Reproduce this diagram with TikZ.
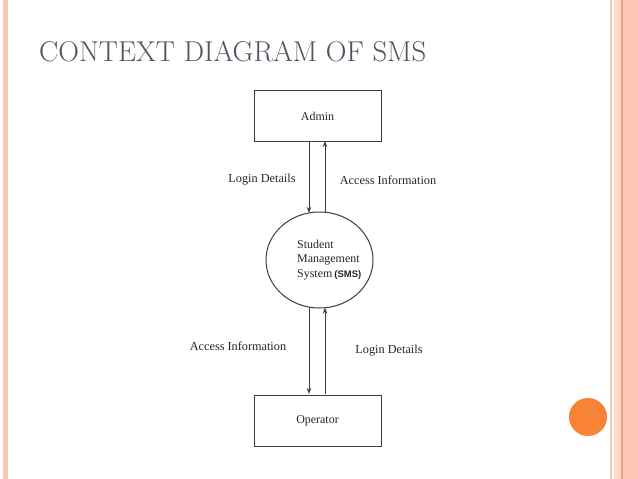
\documentclass[tikz,border=0pt]{standalone}
\usepackage{fontspec}
\setmainfont{Liberation Serif}
\newfontfamily\titlefont{Latin Modern Roman}
\newfontfamily\smsfont{Liberation Sans}
\usetikzlibrary{shapes.geometric,arrows.meta}
\definecolor{stripe}{HTML}{F9C9B8}
\definecolor{peach}{HTML}{FCC8B4}
\definecolor{peachdark}{HTML}{F0A078}
\definecolor{titlegray}{HTML}{4F5461}
\definecolor{linegray}{HTML}{3C3C3C}
\definecolor{textgray}{HTML}{262626}
\definecolor{dotorange}{HTML}{F88236}
\tikzset{
  entity/.style={draw=linegray, line width=1pt, minimum width=127bp, minimum height=51bp, inner sep=0pt, text=textgray, font=\fontsize{12}{14}\selectfont},
  process/.style={draw=linegray, line width=1pt, ellipse, minimum width=107bp, minimum height=96bp, inner sep=0pt},
  flow/.style={draw=linegray, line width=1pt, -{Stealth[length=6bp,width=4.5bp]}},
  flowlabel/.style={text=textgray, font=\fontsize{12.3}{14}\selectfont, inner sep=0pt}
}
\begin{document}
\begin{tikzpicture}[x=1bp,y=-1bp]
\useasboundingbox (0,0) rectangle (638,479);
\fill[white] (0,0) rectangle (638,479);
% decorative stripes
\fill[stripe] (3,0) rectangle (8,479);
\fill[stripe] (609.5,0) rectangle (612,479);
\fill[peach!70] (614,0) rectangle (621,479);
\fill[peachdark] (621,0) rectangle (622.5,479);
\fill[peach] (622.5,0) rectangle (638,479);
\fill[dotorange] (588,417) circle (19);
% title
\node[anchor=base west, inner sep=0pt, text=titlegray, font=\titlefont\fontsize{28.8}{32}\selectfont] (title) at (39,62) {CONTEXT DIAGRAM OF SMS};
% nodes
\node[entity] (admin) at (317.5,116) {Admin};
\node[process] (sms) at (319.5,260) {};
\node[align=left, text=textgray, font=\fontsize{12}{14.5}\selectfont, inner sep=0pt, anchor=west] (smstext) at (297,260) {Student\\Management\\System\,{\smsfont\bfseries\fontsize{9.5}{14.5}\selectfont(SMS)}};
\node[entity] (operator) at (317.5,420.5) {Operator};
% end points of flows
\coordinate (a1) at (309,141);
\coordinate (a2) at (325,141);
\coordinate (s1) at (309,213);
\coordinate (s2) at (325,212.3);
\coordinate (s3) at (309,307);
\coordinate (s4) at (325,307.7);
\coordinate (o1) at (309,394);
\coordinate (o2) at (325,394);
\draw[flow] (a1) -- (s1);
\draw[flow] (s2) -- (a2);
\draw[flow] (s3) -- (o1);
\draw[flow] (o2) -- (s4);
% labels
\node[flowlabel] (l1) at (262,180) {Login Details};
\node[flowlabel] (l2) at (388,180) {Access Information};
\node[flowlabel] (l3) at (238,346) {Access Information};
\node[flowlabel] (l4) at (389,351) {Login Details};
\end{tikzpicture}
\end{document}
